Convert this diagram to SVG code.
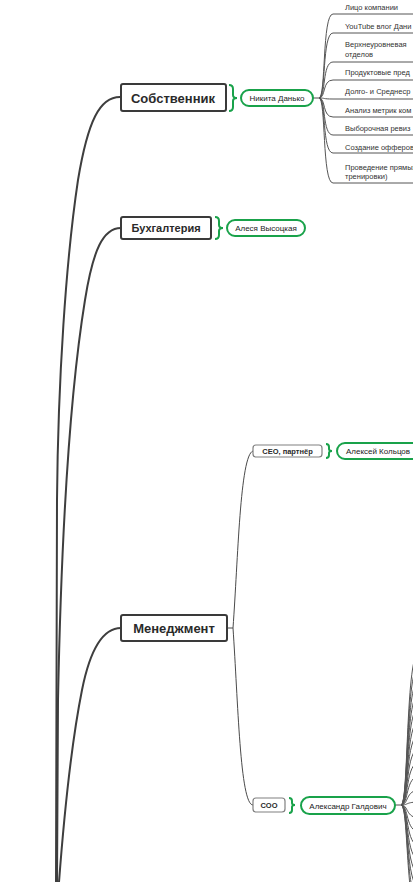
<svg xmlns="http://www.w3.org/2000/svg" width="413" height="882" viewBox="0 0 413 882">
<style>
.main{fill:#fff;stroke:#3a3a3a;stroke-width:2}
.mt{font-family:"Liberation Sans",Arial,sans-serif;font-weight:bold;fill:#2a2a2a;text-anchor:middle}
.sub{fill:#fff;stroke:#808080;stroke-width:1.2}
.st{font-family:"Liberation Sans",Arial,sans-serif;font-weight:bold;font-size:7.5px;fill:#2a2a2a;text-anchor:middle}
.pill{fill:#fff;stroke:#19a24a;stroke-width:2}
.pt{font-family:"Liberation Sans",Arial,sans-serif;font-size:8px;fill:#222;text-anchor:middle}
.br{fill:none;stroke:#19a24a;stroke-width:2}
.trunk{fill:none;stroke:#3e3e3e;stroke-width:2}
.thin{fill:none;stroke:#4a4a4a;stroke-width:1}
.fan{fill:none;stroke:#555;stroke-width:1}
.lt{font-family:"Liberation Sans",Arial,sans-serif;font-size:7.5px;fill:#333}
</style>
<g id="connectors">
<path class="trunk" d="M120,97 C100,97 88,120 78,180 C66,260 58,380 57,500 L56,882"/>
<path class="trunk" d="M121,228 C103,228 93,250 85,300 C72,380 62,500 58,700 L57,882"/>
<path class="trunk" d="M121,628 C103,628 90,650 82,690 C74,730 66,790 59,882"/>
<path class="thin" d="M227,628 L233,628"/>
<path class="thin" d="M233,628 C238,560 240,455 253,451"/>
<path class="thin" d="M233,628 C238,700 240,805 253,805"/>
<path class="thin" d="M313,98 L319,98"/>
<g class="fan">
<path d="M319,98 C326,98 322,14 333,14 L413,14"/>
<path d="M319,98 C326,98 322,33 333,33 L413,33"/>
<path d="M319,98 C326,98 322,62 333,62 L413,62"/>
<path d="M319,98 C326,98 322,80 333,80 L413,80"/>
<path d="M319,98 C326,98 322,99 333,99 L413,99"/>
<path d="M319,98 C326,98 322,117 333,117 L413,117"/>
<path d="M319,98 C326,98 322,135 333,135 L413,135"/>
<path d="M319,98 C326,98 322,153 333,153 L413,153"/>
<path d="M319,98 C326,98 322,183 333,183 L413,183"/>
</g>
<path class="thin" d="M395,805 L401,805"/>
<g class="fan" stroke="#444">
<path d="M401,805 C409,805 405,650 420,650"/>
<path d="M401,805 C409,805 405,664 420,664"/>
<path d="M401,805 C409,805 405,678 420,678"/>
<path d="M401,805 C409,805 405,692 420,692"/>
<path d="M401,805 C409,805 405,706 420,706"/>
<path d="M401,805 C409,805 405,720 420,720"/>
<path d="M401,805 C409,805 405,734 420,734"/>
<path d="M401,805 C409,805 405,748 420,748"/>
<path d="M401,805 C409,805 405,762 420,762"/>
<path d="M401,805 C409,805 405,776 420,776"/>
<path d="M401,805 C409,805 405,790 420,790"/>
<path d="M401,805 C409,805 405,802 420,802"/>
<path d="M401,805 C409,805 405,818 420,818"/>
<path d="M401,805 C409,805 405,832 420,832"/>
<path d="M401,805 C409,805 405,846 420,846"/>
<path d="M401,805 C409,805 405,860 420,860"/>
<path d="M401,805 C409,805 405,874 420,874"/>
<path d="M401,805 C409,805 405,888 420,888"/>
<path d="M401,805 C409,805 405,902 420,902"/>
<path d="M401,805 C409,805 405,916 420,916"/>
</g>
</g>
<g id="sobstvennik">
<rect class="main" x="121" y="84" width="105" height="27" rx="2"/>
<text class="mt" x="173" y="102.5" font-size="13">Собственник</text>
</g>
<path class="br" d="M229,85 Q233,85 233,89 L233,95 Q233,98 237,98 Q233,98 233,101 L233,107 Q233,111 229,111"/>
<g id="danko">
<rect class="pill" x="241" y="90" width="72" height="16" rx="8"/>
<text class="pt" x="277" y="101">Никита Данько</text>
</g>
<g id="items">
<text class="lt" x="345" y="10">Лицо компании</text>
<text class="lt" x="345" y="29">YouTube влог Дани</text>
<text class="lt" x="345" y="47">Верхнеуровневая</text>
<text class="lt" x="345" y="57">отделов</text>
<text class="lt" x="345" y="75">Продуктовые пред</text>
<text class="lt" x="345" y="94">Долго- и Среднеср</text>
<text class="lt" x="345" y="113">Анализ метрик ком</text>
<text class="lt" x="345" y="131">Выборочная ревиз</text>
<text class="lt" x="345" y="150">Создание офферов</text>
<text class="lt" x="345" y="170">Проведение прямых</text>
<text class="lt" x="345" y="179">тренировки)</text>
</g>
<g id="buh">
<rect class="main" x="121" y="217" width="90" height="22" rx="2"/>
<text class="mt" x="166" y="232" font-size="11">Бухгалтерия</text>
</g>
<path class="br" d="M215,217 Q219,217 219,221 L219,225 Q219,228 223,228 Q219,228 219,231 L219,235 Q219,239 215,239"/>
<g id="vysockaya">
<rect class="pill" x="227" y="220" width="78" height="16" rx="8"/>
<text class="pt" x="266" y="231">Алеся Высоцкая</text>
</g>
<g id="management">
<rect class="main" x="121" y="615" width="106" height="26" rx="2"/>
<text class="mt" x="174" y="633" font-size="13">Менеджмент</text>
</g>
<g id="ceo">
<rect class="sub" x="253" y="445" width="69" height="12" rx="3"/>
<text class="st" x="287.5" y="454">CEO, партнёр</text>
</g>
<path class="br" d="M326,444 Q329,444 329,447 L329,449 Q329,451 332,451 Q329,451 329,453 L329,455 Q329,458 326,458"/>
<g id="kolcov">
<rect class="pill" x="337" y="443" width="84" height="16" rx="8"/>
<text class="pt" x="378" y="454">Алексей Кольцов</text>
</g>
<g id="coo">
<rect class="sub" x="253" y="798" width="32" height="14" rx="3"/>
<text class="st" x="269" y="808">COO</text>
</g>
<path class="br" d="M289,798 Q292,798 292,801 L292,803 Q292,805 295,805 Q292,805 292,807 L292,810 Q292,813 289,813"/>
<g id="galdovich">
<rect class="pill" x="301" y="797" width="94" height="17" rx="8.5"/>
<text class="pt" x="348" y="808.5">Александр Галдович</text>
</g>
</svg>
